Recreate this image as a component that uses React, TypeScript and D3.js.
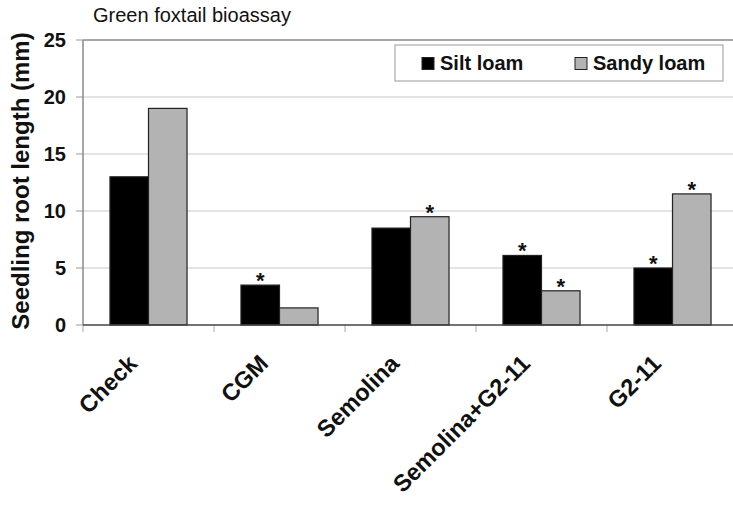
import React from "react";
import * as d3 from "d3";

const categories = ["Check", "CGM", "Semolina", "Semolina+G2-11", "G2-11"];
const seriesNames = ["Silt loam", "Sandy loam"];
const siltLoam = [13, 3.5, 8.5, 6.1, 5];
const sandyLoam = [19, 1.5, 9.5, 3, 11.5];
const siltStar = [false, true, false, true, true];
const sandyStar = [false, false, true, true, true];
const yTicks = [0, 5, 10, 15, 20, 25];
const colors = ["#000000", "#b3b3b3"];

const W = 733, H = 505;
const left = 83, top = 40, bottom = 325, catW = 131;
const right = left + catW * categories.length;

export default function App() {
  const x0 = d3.scaleBand().domain(categories).range([left, right]).paddingInner(0).paddingOuter(0);
  const x1 = d3.scaleBand().domain(seriesNames).range([0, x0.bandwidth()]).paddingInner(0).paddingOuter(0.7);
  const y = d3.scaleLinear().domain([0, 25]).range([bottom, top]);
  const data = [siltLoam, sandyLoam];
  const stars = [siltStar, sandyStar];
  const font = "'Liberation Sans', Arial, sans-serif";
  return (
    <svg width={W} height={H} style={{ position: "absolute", left: 0, top: 0, background: "#fff" }} fontFamily={font}>
      <rect x={0} y={0} width={W} height={H} fill="#fff" />
      <text x={93} y={22} fontSize={20} fill="#111">Green foxtail bioassay</text>
      {yTicks.map((t) => (
        <g key={t}>
          {t > 0 && <line x1={left} x2={right} y1={y(t)} y2={y(t)} stroke={t === 25 ? "#8a8a8a" : "#c8c8c8"} strokeWidth={t === 25 ? 1.5 : 1} />}
          <line x1={left - 7} x2={left} y1={y(t)} y2={y(t)} stroke="#999" />
          <text x={66} y={y(t) + 7} fontSize={20} fontWeight="bold" textAnchor="end" fill="#111">{t}</text>
        </g>
      ))}
      <line x1={left} x2={left} y1={top} y2={bottom} stroke="#8a8a8a" strokeWidth={1.5} />
      <line x1={right} x2={right} y1={top} y2={bottom} stroke="#8a8a8a" strokeWidth={1.5} />
      {categories.map((c, i) => (
        <g key={c}>
          {data.map((vals, s) => {
            const bx = (x0(c) as number) + (x1(seriesNames[s]) as number);
            return (
              <g key={s}>
                <rect x={bx} y={y(vals[i])} width={x1.bandwidth()} height={bottom - y(vals[i])} fill={colors[s]} stroke="#222" strokeWidth={1.2} />
                {stars[s][i] && (
                  <text x={bx + x1.bandwidth() / 2} y={y(vals[i]) + 3} fontSize={22} fontWeight="bold" textAnchor="middle" fill="#111">*</text>
                )}
              </g>
            );
          })}
        </g>
      ))}
      {d3.range(categories.length + 1).map((i) => (
        <line key={i} x1={left + i * catW} x2={left + i * catW} y1={bottom} y2={bottom + 7} stroke="#aaa" />
      ))}
      <line x1={left} x2={right} y1={bottom} y2={bottom} stroke="#444" strokeWidth={1.5} />
      {categories.map((c) => {
        const cx = (x0(c) as number) + x0.bandwidth() / 2 - 10;
        const cy = 365;
        return (
          <text key={c} x={cx} y={cy} transform={`rotate(-45 ${cx} ${cy})`} textAnchor="end" fontSize={23.5} fontWeight="bold" fill="#111">{c}</text>
        );
      })}
      <text transform={`translate(29 181) rotate(-90)`} textAnchor="middle" fontSize={24} fontWeight="bold" fill="#111">Seedling root length (mm)</text>
      <rect x={395} y={45} width={328} height={36} fill="#fff" stroke="#999" strokeWidth={1} />
      {seriesNames.map((n, s) => {
        const lx = s === 0 ? 422 : 575;
        return (
          <g key={n}>
            <rect x={lx} y={57.5} width={12} height={12} fill={colors[s]} stroke="#222" />
            <text x={lx + 18} y={70} fontSize={20} fontWeight="bold" fill="#111">{n}</text>
          </g>
        );
      })}
    </svg>
  );
}
